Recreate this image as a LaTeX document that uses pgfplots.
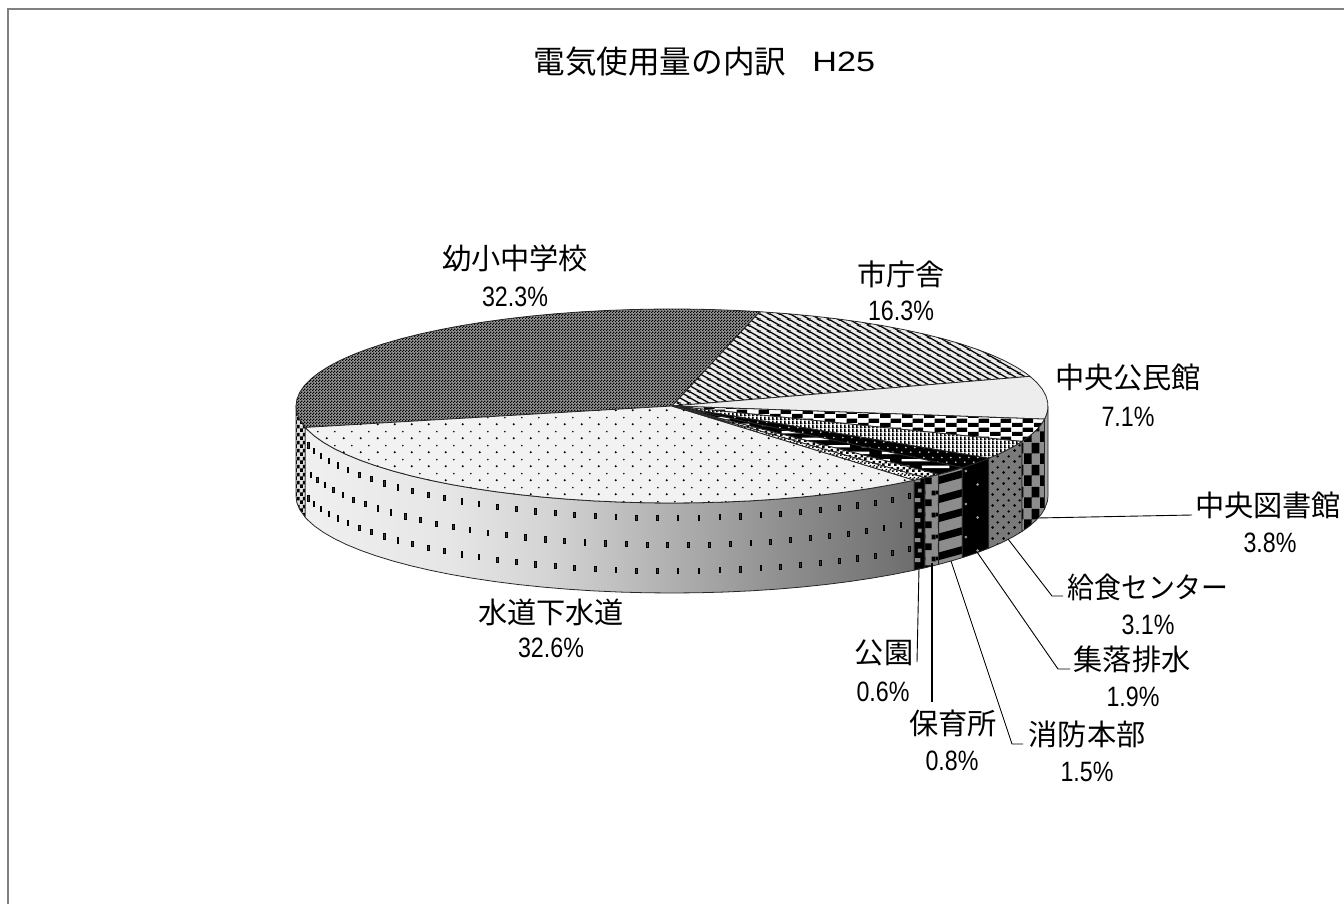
\documentclass[border=0pt]{standalone}
\usepackage{graphicx}
\usepackage{fontspec}
\usepackage{pgfplots}
\usepackage{pgfplotstable}
\pgfplotsset{compat=1.18}
\usetikzlibrary{patterns}
\setmainfont{Noto Sans CJK JP}
\newfontfamily\lat{Liberation Sans}
\definecolor{fr}{HTML}{808080}
% --- patterns (1pt = 2px of the reference)
\newcommand\rr[4]{\pgfpathrectangle{\pgfqpoint{#1pt}{#2pt}}{\pgfqpoint{#3pt}{#4pt}}}
\newcommand\cc[3]{\pgfpathcircle{\pgfqpoint{#1pt}{#2pt}}{#3pt}}
\newcommand\tile[3]{\pgfdeclarepatternformonly{#1}{\pgfqpoint{0pt}{0pt}}{\pgfqpoint{#2pt}{#3pt}}{\pgfqpoint{#2pt}{#3pt}}}
\tile{pdots}{8.5}{7}{\cc{2}{2}{.62}\cc{6.25}{5.5}{.48}\pgfusepath{fill}}
\tile{pfine}{1.5}{1.5}{\rr{0}{0}{.75}{.75}\rr{.75}{.75}{.75}{.75}\pgfusepath{fill}}
\tile{pdiag}{5}{2.75}{\pgfsetlinewidth{.68pt}
  \pgfpathmoveto{\pgfqpoint{-5pt}{5.5pt}}\pgfpathlineto{\pgfqpoint{10pt}{-2.75pt}}
  \pgfpathmoveto{\pgfqpoint{-5pt}{8.25pt}}\pgfpathlineto{\pgfqpoint{10pt}{0pt}}
  \pgfpathmoveto{\pgfqpoint{-5pt}{2.75pt}}\pgfpathlineto{\pgfqpoint{10pt}{-5.5pt}}\pgfusepath{stroke}}
\tile{pbrick}{11}{4.5}{\rr{0}{0}{5.5}{2.25}\rr{5.5}{2.25}{5.5}{2.25}\pgfusepath{fill}}
\tile{pv}{2}{2}{\rr{0}{0}{.95}{2}\rr{.95}{0}{1.05}{.3}\pgfusepath{fill}}
\tile{pwdots}{4.5}{5}{\cc{1}{1}{.5}\cc{3.25}{3.5}{.5}\pgfusepath{fill}}
\tile{pbars}{20}{7}{\rr{1}{1}{14}{1.3}\rr{11}{4.5}{14}{1.3}\rr{-9}{4.5}{14}{1.3}\pgfusepath{fill}}
\tile{psmall}{3}{3}{\rr{0}{0}{1.5}{1.5}\rr{1.5}{1.5}{1.5}{1.5}\pgfusepath{fill}}
\tile{psmallb}{2}{2}{\rr{0}{0}{1}{1}\rr{1}{1}{1}{1}\pgfusepath{fill}}
\tile{scheck}{8}{11}{\rr{0}{0}{4}{5.5}\rr{4}{5.5}{4}{5.5}\pgfusepath{fill}}
\tile{sspot}{5.5}{5.5}{\cc{1.4}{1.4}{.8}\cc{4.1}{4.1}{.7}\pgfusepath{fill}}
\tile{sgdots}{12}{16.5}{\cc{3}{2}{.75}\cc{9}{12}{.75}\pgfusepath{fill}}
\tile{sbars}{33.3}{9.5}{%
  \pgfpathmoveto{\pgfqpoint{0pt}{0pt}}\pgfpathlineto{\pgfqpoint{33.3pt}{9.5pt}}\pgfpathlineto{\pgfqpoint{33.3pt}{13.5pt}}\pgfpathlineto{\pgfqpoint{0pt}{4pt}}\pgfpathclose
  \pgfpathmoveto{\pgfqpoint{0pt}{-9.5pt}}\pgfpathlineto{\pgfqpoint{33.3pt}{0pt}}\pgfpathlineto{\pgfqpoint{33.3pt}{4pt}}\pgfpathlineto{\pgfqpoint{0pt}{-5.5pt}}\pgfpathclose
  \pgfusepath{fill}}
\tile{sblob}{6.5}{11}{\rr{1}{1}{3.5}{3.5}\rr{4.5}{6.5}{2}{2.5}\rr{0}{7}{1.2}{2}\pgfusepath{fill}}
\tile{sgsq}{5.5}{10}{\rr{.8}{1}{3}{2}\rr{2.5}{6}{2}{2}\pgfusepath{fill}}
\tile{swave}{3}{4}{\rr{0}{0}{1.5}{2}\rr{1.5}{2}{1.5}{2}\pgfusepath{fill}}
% --- gradient of the long front side
\pgfdeclarehorizontalshading{sideI}{100bp}{color(0bp)=(black!6); color(25bp)=(black!6); color(37bp)=(black!10); color(45bp)=(black!17); color(55bp)=(black!31); color(65bp)=(black!45); color(75bp)=(black!57); color(100bp)=(black!57)}
% --- slices: t = angle on the ellipse (deg), r = 0 centre / 1 rim, d = 0 top / 1 bottom of the side
\pgfplotstableread[row sep=\\]{t r d\\0 0 0\\76.5 1 0\\72 1 0\\68 1 0\\64 1 0\\60 1 0\\56 1 0\\52 1 0\\48 1 0\\44 1 0\\40 1 0\\36 1 0\\32 1 0\\28 1 0\\24 1 0\\20 1 0\\17.8 1 0\\0 0 0\\}\tA
\pgfplotstableread[row sep=\\]{t r d\\0 0 0\\17.8 1 0\\14 1 0\\10 1 0\\6 1 0\\2 1 0\\-2 1 0\\-5 1 0\\-7.76 1 0\\0 0 0\\}\tB
\pgfplotstableread[row sep=\\]{t r d\\0 0 0\\-7.76 1 0\\-11 1 0\\-14.5 1 0\\-18 1 0\\-21.44 1 0\\0 0 0\\}\tC
\pgfplotstableread[row sep=\\]{t r d\\0 0 0\\-21.44 1 0\\-25 1 0\\-29 1 0\\-32.6 1 0\\0 0 0\\}\tD
\pgfplotstableread[row sep=\\]{t r d\\0 0 0\\-32.6 1 0\\-36 1 0\\-39.44 1 0\\0 0 0\\}\tE
\pgfplotstableread[row sep=\\]{t r d\\0 0 0\\-39.44 1 0\\-42 1 0\\-44.84 1 0\\0 0 0\\}\tF
\pgfplotstableread[row sep=\\]{t r d\\0 0 0\\-44.84 1 0\\-47.72 1 0\\0 0 0\\}\tG
\pgfplotstableread[row sep=\\]{t r d\\0 0 0\\-47.72 1 0\\-49.88 1 0\\0 0 0\\}\tH
\pgfplotstableread[row sep=\\]{t r d\\0 0 0\\-49.88 1 0\\-54 1 0\\-58 1 0\\-62 1 0\\-66 1 0\\-70 1 0\\-74 1 0\\-78 1 0\\-82 1 0\\-86 1 0\\-90 1 0\\-94 1 0\\-98 1 0\\-102 1 0\\-106 1 0\\-110 1 0\\-114 1 0\\-118 1 0\\-122 1 0\\-126 1 0\\-130 1 0\\-134 1 0\\-138 1 0\\-142 1 0\\-146 1 0\\-150 1 0\\-154 1 0\\-158 1 0\\-162 1 0\\-166 1 0\\-167.24 1 0\\0 0 0\\}\tI
\pgfplotstableread[row sep=\\]{t r d\\0 0 0\\192.76 1 0\\188 1 0\\184 1 0\\180 1 0\\176 1 0\\172 1 0\\168 1 0\\164 1 0\\160 1 0\\156 1 0\\152 1 0\\148 1 0\\144 1 0\\140 1 0\\136 1 0\\132 1 0\\128 1 0\\124 1 0\\120 1 0\\116 1 0\\112 1 0\\108 1 0\\104 1 0\\100 1 0\\96 1 0\\92 1 0\\88 1 0\\84 1 0\\80 1 0\\76.5 1 0\\0 0 0\\}\tJ
% sides
\pgfplotstableread[row sep=\\]{t r d\\0 1 0\\-3 1 0\\-7.76 1 0\\-7.76 1 1\\-3 1 1\\0 1 1\\0 1 0\\}\sB
\pgfplotstableread[row sep=\\]{t r d\\-7.76 1 0\\-11 1 0\\-14.5 1 0\\-18 1 0\\-21.44 1 0\\-21.44 1 1\\-18 1 1\\-14.5 1 1\\-11 1 1\\-7.76 1 1\\-7.76 1 0\\}\sC
\pgfplotstableread[row sep=\\]{t r d\\-21.44 1 0\\-25 1 0\\-29 1 0\\-32.6 1 0\\-32.6 1 1\\-29 1 1\\-25 1 1\\-21.44 1 1\\-21.44 1 0\\}\sD
\pgfplotstableread[row sep=\\]{t r d\\-32.6 1 0\\-36 1 0\\-39.44 1 0\\-39.44 1 1\\-36 1 1\\-32.6 1 1\\-32.6 1 0\\}\sE
\pgfplotstableread[row sep=\\]{t r d\\-39.44 1 0\\-42 1 0\\-44.84 1 0\\-44.84 1 1\\-42 1 1\\-39.44 1 1\\-39.44 1 0\\}\sF
\pgfplotstableread[row sep=\\]{t r d\\-44.84 1 0\\-47.72 1 0\\-47.72 1 1\\-44.84 1 1\\-44.84 1 0\\}\sG
\pgfplotstableread[row sep=\\]{t r d\\-47.72 1 0\\-49.88 1 0\\-49.88 1 1\\-47.72 1 1\\-47.72 1 0\\}\sH
\pgfplotstableread[row sep=\\]{t r d\\-49.88 1 0\\-54 1 0\\-58 1 0\\-62 1 0\\-66 1 0\\-70 1 0\\-74 1 0\\-78 1 0\\-82 1 0\\-86 1 0\\-90 1 0\\-94 1 0\\-98 1 0\\-102 1 0\\-106 1 0\\-110 1 0\\-114 1 0\\-118 1 0\\-122 1 0\\-126 1 0\\-130 1 0\\-134 1 0\\-138 1 0\\-142 1 0\\-146 1 0\\-150 1 0\\-154 1 0\\-158 1 0\\-162 1 0\\-166 1 0\\-167.24 1 0\\-167.24 1 1\\-166 1 1\\-162 1 1\\-158 1 1\\-154 1 1\\-150 1 1\\-146 1 1\\-142 1 1\\-138 1 1\\-134 1 1\\-130 1 1\\-126 1 1\\-122 1 1\\-118 1 1\\-114 1 1\\-110 1 1\\-106 1 1\\-102 1 1\\-98 1 1\\-94 1 1\\-90 1 1\\-86 1 1\\-82 1 1\\-78 1 1\\-74 1 1\\-70 1 1\\-66 1 1\\-62 1 1\\-58 1 1\\-54 1 1\\-49.88 1 1\\-49.88 1 0\\}\sI
\pgfplotstableread[row sep=\\]{t r d\\-167.24 1 0\\-172 1 0\\-176 1 0\\-180 1 0\\-180 1 1\\-176 1 1\\-172 1 1\\-167.24 1 1\\-167.24 1 0\\}\sJ
% dashes on the long side
\pgfplotstableread[row sep=\\]{t\\-50.9\\-54.1\\-57.3\\-60.4\\-63.6\\-66.8\\-70\\-73.2\\-76.3\\-79.5\\-82.7\\-85.9\\-89.1\\-92.2\\-95.4\\-98.6\\-101.8\\-105\\-108.1\\-111.3\\-114.5\\-117.7\\-120.9\\-124\\-127.2\\-130.4\\-133.6\\-136.8\\-139.9\\-143.1\\-146.3\\-149.5\\-152.7\\-155.8\\-159\\-162.2\\-165.4\\}\dA
\pgfplotstableread[row sep=\\]{t\\-52.5\\-55.7\\-58.9\\-62\\-65.2\\-68.4\\-71.6\\-74.8\\-77.9\\-81.1\\-84.3\\-87.5\\-90.7\\-93.8\\-97\\-100.2\\-103.4\\-106.6\\-109.7\\-112.9\\-116.1\\-119.3\\-122.5\\-125.6\\-128.8\\-132\\-135.2\\-138.4\\-141.5\\-144.7\\-147.9\\-151.1\\-154.3\\-157.4\\-160.6\\-163.8\\}\dB
\def\DX{672}\def\DY{406}\def\RX{376}\def\RY{97}\def\DZ{90}
\pgfplotsset{/pgfplots/table/pie/.style={x expr={\DX+\RX*\thisrow{r}*cos(\thisrow{t})},y expr={\DY-\RY*\thisrow{r}*sin(\thisrow{t})+\DZ*\thisrow{d}}},
 /pgfplots/table/ring/.style={x index=0,y index=0,x expr={\DX+\RX*cos(\thisrow{t})},y expr={\DY-\RY*sin(\thisrow{t})+#1}},
 dash/.style={only marks,mark=square*,mark size=1pt,mark options={xscale=.42,yscale=1.3,draw=none,fill=black!78}}}
% slice: table, background colour, pattern, pattern colour
\newcommand\slice[4]{%
  \addplot[fill=#2,draw=none] table[pie] {#1};
  \addplot[pattern=#3,pattern color=#4,draw=none] table[pie] {#1};
  \addplot[draw=black!85,line width=.4pt,line join=round] table[pie] {#1};}
\newcommand\plain[2]{%
  \addplot[fill=#2,draw=black!85,line width=.4pt,line join=round] table[pie] {#1};}
\newcommand\lb[3]{\node[inner sep=0pt,anchor=center] at (axis cs:#1,#2) {\fontsize{14.6pt}{16pt}\selectfont #3};}
\newcommand\pc[3]{\node[inner sep=0pt,anchor=center] at (axis cs:#1,#2) {\lat\fontsize{14pt}{16pt}\selectfont\scalebox{.83}[1]{#3\%}};}
\begin{document}
\begin{tikzpicture}
\begin{axis}[scale only axis,width=672pt,height=452pt,xmin=0,xmax=1344,ymin=0,ymax=904,y dir=reverse,axis lines=none,clip=true,axis background/.style={fill=white}]
% frame
\addplot[fr,line width=1pt] coordinates {(8,904) (8,9.5) (1344,9.5)};
% sides
\slice{\sJ}{black!12}{swave}{black}
\addplot[shade,shading=sideI,draw=none] table[pie] {\sI};
\addplot[draw=black!85,line width=.4pt] table[pie] {\sI};
\addplot[dash] table[ring=15] {\dA};
\addplot[dash] table[ring=42] {\dB};
\addplot[dash] table[ring=68] {\dA};
\slice{\sH}{black}{sgsq}{black!45}
\slice{\sG}{black!45}{sblob}{black}
\slice{\sF}{black!45}{sbars}{black}
\slice{\sE}{black}{sgdots}{black!40}
\slice{\sD}{black!52}{sspot}{black}
\slice{\sC}{black!45}{scheck}{black}
\plain{\sB}{black!35}
% top face
\slice{\tJ}{black!42}{pfine}{black}
\slice{\tI}{black!5}{pdots}{black}
\slice{\tA}{black!8}{pdiag}{black}
\plain{\tB}{black!7}
\slice{\tC}{white}{pbrick}{black}
\slice{\tD}{white}{pv}{black}
\slice{\tE}{black}{pwdots}{black!15}
\slice{\tF}{black}{pbars}{white}
\slice{\tG}{white}{psmall}{black}
\slice{\tH}{white}{psmallb}{black}
% leader lines
\addplot[black,line width=.45pt] coordinates {(1037,518) (1192,515)};
\addplot[black,line width=.45pt] coordinates {(1008,539) (1052,596) (1063,596)};
\addplot[black,line width=.45pt] coordinates {(977,552) (1058,669) (1070,669)};
\addplot[black,line width=.45pt] coordinates {(951,561) (1012,744) (1023,744)};
\addplot[black,line width=.9pt] coordinates {(932,563) (932,702)};
\addplot[black,line width=.45pt] coordinates {(919,568) (917,662)};
% texts
\node[inner sep=0pt,anchor=west] at (axis cs:533,62) {\fontsize{15.8pt}{17pt}\selectfont 電気使用量の内訳};
\node[inner sep=0pt,anchor=west] at (axis cs:812,62) {\lat\fontsize{14pt}{16pt}\selectfont\scalebox{1.22}[1]{H25}};
\lb{515}{258}{幼小中学校}\pc{515}{297}{32.3}
\lb{901}{274}{市庁舎}\pc{901}{311}{16.3}
\lb{1128}{377}{中央公民館}\pc{1128}{417}{7.1}
\lb{1268}{505}{中央図書館}\pc{1270}{543}{3.8}
\lb{1148}{587}{\scalebox{.92}[1]{給食センター}}\pc{1148}{625}{3.1}
\lb{1132}{659}{集落排水}\pc{1133}{697}{1.9}
\lb{1087}{734}{消防本部}\pc{1087}{772}{1.5}
\lb{953}{723}{保育所}\pc{952}{761}{0.8}
\lb{884}{653}{公園}\pc{883}{692}{0.6}
\lb{551}{612}{水道下水道}\pc{551}{648}{32.6}
\end{axis}
\end{tikzpicture}
\end{document}
